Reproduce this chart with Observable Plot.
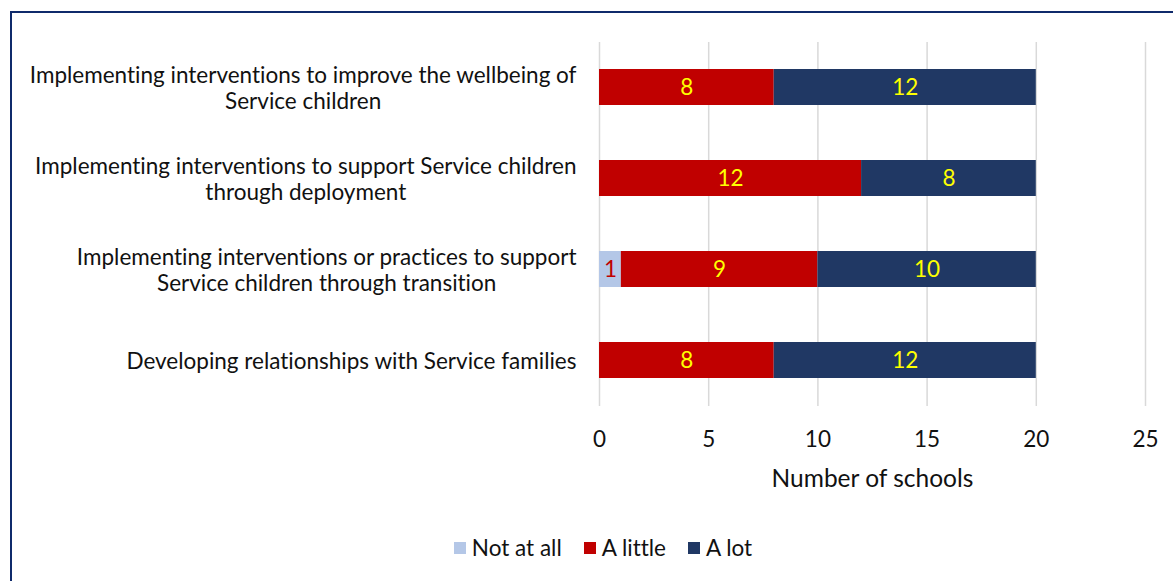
<!DOCTYPE html>
<html>
<head>
<meta charset="utf-8">
<script src="https://cdn.jsdelivr.net/npm/d3@7"></script>
<script src="https://cdn.jsdelivr.net/npm/@observablehq/plot@0.6"></script>
<style>
  html, body { margin: 0; padding: 0; background: #fff; overflow: hidden; }
  #wrap { position: relative; width: 1173px; height: 581px; overflow: hidden; font-family: Lato, "Open Sans", sans-serif; font-variant-ligatures: none; }
  #frame { position: absolute; left: 10px; top: 11px; width: 1300px; height: 700px; border: 2px solid #0f2a6b; box-sizing: border-box; }
  #chart { position: absolute; left: 0; top: 0; }
  #chart svg text { font-variant-ligatures: none; }
  #legend { position: absolute; left: 0; top: 534px; width: 1206px; display: flex; justify-content: center; align-items: center; font-size: 22.5px; color: #111; }
  .li { display: flex; align-items: center; margin: 0 11px; }
  .sw { width: 12px; height: 12px; margin-right: 6px; }
</style>
</head>
<body>
<div id="wrap">
  <div id="frame"></div>
  <div id="chart"></div>
  <div id="legend"></div>
</div>
<script>
const categories = [
  "Implementing interventions to improve the wellbeing of\nService children",
  "Implementing interventions to support Service children\nthrough deployment",
  "Implementing interventions or practices to support\nService children through transition",
  "Developing relationships with Service families"
];
const seriesNames = ["Not at all", "A little", "A lot"];
const notAtAll = [0, 0, 1, 0];
const aLittle = [8, 12, 9, 8];
const aLot = [12, 8, 10, 12];
const seriesColors = ["#B4C7E7", "#C00000", "#203864"];
const labelColors = ["#C00000", "#FFFF00", "#FFFF00"];
const xTicks = [0, 5, 10, 15, 20, 25];

const seriesValues = [notAtAll, aLittle, aLot];
const rows = [];
seriesNames.forEach((s, si) => {
  categories.forEach((c, ci) => {
    rows.push({category: c, series: s, value: seriesValues[si][ci]});
  });
});

const FS = 22.5;
const chart = Plot.plot({
  width: 1173,
  height: 500,
  marginLeft: 599,
  marginRight: 28,
  marginTop: 42,
  marginBottom: 94,
  style: {fontFamily: "Lato, 'Open Sans', sans-serif", fontSize: FS + "px", color: "#111", background: "transparent"},
  x: {domain: [0, 25], ticks: xTicks},
  y: {domain: categories, paddingInner: 0.6, paddingOuter: 0.3},
  color: {domain: seriesNames, range: seriesColors},
  marks: [
    Plot.gridX(xTicks, {stroke: "#D9D9D9", strokeOpacity: 1, strokeWidth: 1.5}),
    Plot.barX(rows, Plot.stackX({x: "value", y: "category", fill: "series", order: seriesNames})),
    Plot.text(rows.filter(d => d.value > 0), Plot.stackX({
      x: "value", y: "category", text: d => String(d.value),
      fill: d => labelColors[seriesNames.indexOf(d.series)],
      order: seriesNames,
      fontSize: FS
    })),
    Plot.axisX({ticks: xTicks, tickSize: 0, tickPadding: 25, fontSize: FS, label: null}),
    Plot.axisX({ticks: [], tickSize: 0, fontSize: 24.5, label: "Number of schools", labelAnchor: "center", labelArrow: "none", labelOffset: 80}),
    Plot.axisY({tickSize: 0, tickPadding: 23, fontSize: FS, lineHeight: 1.16, label: null})
  ]
});
document.getElementById("chart").appendChild(chart);

// center multi-line y labels within their right-aligned block (Excel style)
const yAxisTexts = chart.querySelectorAll("g[aria-label='y-axis tick label'] text");
yAxisTexts.forEach(t => {
  const spans = t.querySelectorAll("tspan");
  if (spans.length < 2) return;
  let maxW = 0;
  spans.forEach(s => { maxW = Math.max(maxW, s.getComputedTextLength()); });
  const x0 = +(spans[0].getAttribute("x") || 0);
  t.setAttribute("text-anchor", "middle");
  spans.forEach(s => s.setAttribute("x", x0 - maxW / 2));
});

const legend = document.getElementById("legend");
seriesNames.forEach((s, i) => {
  const item = document.createElement("div");
  item.className = "li";
  const sw = document.createElement("div");
  sw.className = "sw";
  sw.style.background = seriesColors[i];
  const lab = document.createElement("span");
  lab.textContent = s;
  item.appendChild(sw); item.appendChild(lab);
  legend.appendChild(item);
});
</script>
</body>
</html>
